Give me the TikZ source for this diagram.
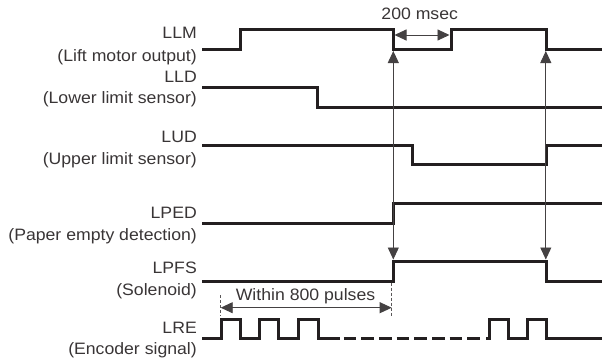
\documentclass[tikz,border=0pt]{standalone}
\usepackage{fontspec}
\setmainfont{Liberation Sans}[FakeStretch=1.07]
\usetikzlibrary{arrows.meta}
\definecolor{ink}{HTML}{231F20}

\begin{document}
\begin{tikzpicture}[x=1pt, y=-1pt, font=\fontsize{16.5}{19}\selectfont,
  wave/.style={ink, line width=3pt},
  guide/.style={ink!85, line width=0.9pt},
  tipboth/.style={guide, {Triangle[length=12pt,width=11pt]}-{Triangle[length=12pt,width=11pt]}},
  tick/.style={ink!75, line width=0.8pt, dash pattern=on 3pt off 2pt},
  lbl/.style={anchor=base east, inner sep=0pt, text=ink!90}]
  \useasboundingbox (0,0) rectangle (602,362);
  % --- signal names ---
  \foreach \nm/\yb/\txt in {
      llm/38.5/LLM, llmDesc/61.5/(Lift motor output),
      lld/82.5/LLD, lldDesc/103/(Lower limit sensor),
      lud/142.5/LUD, ludDesc/164/(Upper limit sensor),
      lped/218.5/LPED, lpedDesc/240/(Paper empty detection),
      lpfs/273.5/LPFS, lpfsDesc/295/(Solenoid),
      lre/333.5/LRE, lreDesc/354/(Encoder signal)}
    {\node[lbl] (\nm) at (197,\yb) {\txt};}
  % --- waveforms ---
  \draw[wave] (202,49.3) -| (240.7,29.3) -| (393,49.3) -| (451,29.3)
    -| (546.5,49.3) -- (602,49.3);
  \draw[wave] (202,87.3) -| (317.5,107.3) -- (602,107.3);
  \draw[wave] (202,145.3) -| (412.3,164.3) -| (546.5,145.3) -- (602,145.3);
  \draw[wave] (202,223.3) -| (393,203.3) -- (602,203.3);
  \draw[wave] (202,281) -| (393,261) -| (546.5,281) -- (602,281);
  % --- encoder pulses ---
  \draw[wave] (202,338.7) -| (221.7,319) -| (240.7,338.7) -| (259.3,319)
    -| (278.7,338.7) -| (298.3,319) -| (318.3,338.7) -- (340,338.7);
  \draw[wave, dash pattern=on 12.5pt off 5.15pt] (343.75,338.7) -- (480,338.7);
  \draw[wave] (486,338.7) -| (489,319) -| (508.3,338.7) -| (527.7,319)
    -| (546.7,338.7) -- (602,338.7);
  % --- timing arrows ---
  \coordinate (upA) at (393.3,51);
  \coordinate (dnA) at (393.3,259.5);
  \coordinate (upB) at (545.8,51);
  \coordinate (dnB) at (545.8,259.5);
  \draw[tipboth] (upA) -- (dnA);
  \draw[tipboth] (upB) -- (dnB);
  \coordinate (msL) at (394.5,35);
  \coordinate (msR) at (449.5,35);
  \draw[tipboth] (msL) -- (msR);
  \node[anchor=base, inner sep=0pt, text=ink!90] (msTxt) at (419.7,19.3) {200 msec};
  \draw[tick] (220.7,295) -- (220.7,316);
  \draw[tick] (391.7,282.5) -- (391.7,317);
  \coordinate (wL) at (220.7,307.7);
  \coordinate (wR) at (391.7,307.7);
  \draw[tipboth] (wL) -- (wR);
  \node[anchor=base, inner sep=0pt, text=ink!90] (wTxt) at (305.5,300.5) {Within 800 pulses};
\end{tikzpicture}
\end{document}
